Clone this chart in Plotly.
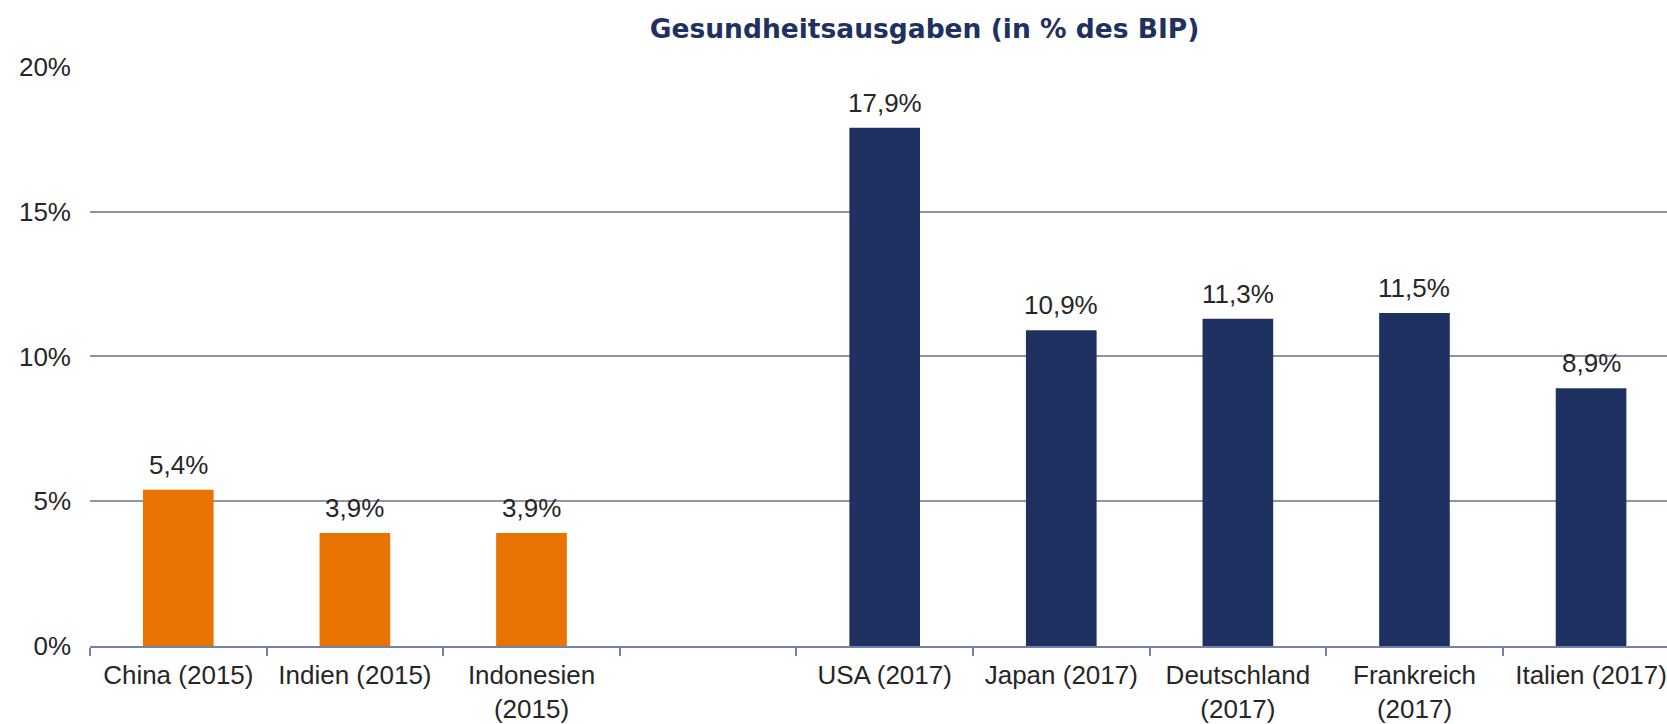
import plotly.graph_objects as go

# categories (blank slot separates the two groups)
laender = ["China (2015)", "Indien (2015)", "Indonesien<br>(2015)", " ",
           "USA (2017)", "Japan (2017)", "Deutschland<br>(2017)",
           "Frankreich<br>(2017)", "Italien (2017)"]
ausgaben = [5.4, 3.9, 3.9, None, 17.9, 10.9, 11.3, 11.5, 8.9]
gruppe = ["schwellen", "schwellen", "schwellen", None,
          "industrie", "industrie", "industrie", "industrie", "industrie"]

farben = {"schwellen": "#E97300", "industrie": "#1F3160", None: "rgba(0,0,0,0)"}
text_col = "#262626"
font_fam = "Liberation Sans, Arial, sans-serif"

fig = go.Figure()
fig.add_trace(go.Bar(
    x=laender,
    y=ausgaben,
    marker=dict(color=[farben[g] for g in gruppe], line=dict(width=0)),
    width=0.4,
    hoverinfo="skip",
))

# ! value labels above bars
for name, val in zip(laender, ausgaben):
    if val is None:
        continue
    fig.add_annotation(
        x=name, y=val,
        text=f"{val:.1f}%".replace(".", ","),
        showarrow=False, yanchor="bottom", yshift=8,
        font=dict(size=26, color=text_col, family=font_fam),
    )

fig.update_layout(
    width=1667, height=724,
    margin=dict(l=90, r=0, t=66, b=78, autoexpand=False),
    paper_bgcolor="white", plot_bgcolor="white",
    showlegend=False,
    separators=",.",
    font=dict(family=font_fam, size=26, color=text_col),
    title=dict(
        text="<b>Gesundheitsausgaben (in % des BIP)</b>",
        x=0.5546, xanchor="center", xref="container",
        y=0.961, yanchor="middle", yref="container",
        font=dict(family="DejaVu Sans, sans-serif", size=26.5, color="#1F3160"),
    ),
)

fig.update_xaxes(
    type="category",
    categoryorder="array", categoryarray=laender,
    range=[-0.5, 8.43],
    automargin=False,
    showline=True, linecolor="#7580AD", linewidth=2,
    ticks="outside", tickson="boundaries", ticklen=8, tickwidth=2,
    tickcolor="#7580AD",
    ticklabelstandoff=5,
    tickfont=dict(size=26, color=text_col),
    showgrid=False,
)
fig.update_yaxes(
    range=[0, 20.03], dtick=5, ticksuffix="%",
    automargin=False,
    showgrid=True, gridcolor="#8F95A8", gridwidth=1.5,
    zeroline=False, showline=False,
    ticklabelstandoff=18,
    tickfont=dict(size=26, color=text_col),
)

# page body has a default 8px margin -> drop it so the figure fills the window
fig.write_html("out.html", config={"displayModeBar": False},
               post_script="document.body.style.margin='0';")
